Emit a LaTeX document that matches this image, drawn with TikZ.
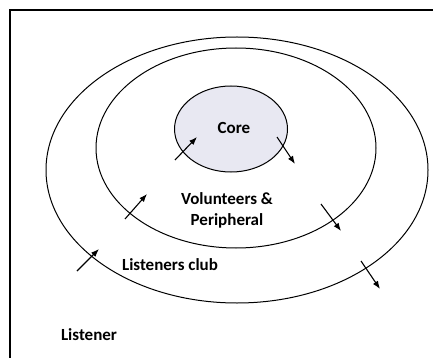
\documentclass[tikz,border=0pt]{standalone}
\usepackage{fontspec}
\setmainfont{Carlito}
\usepackage{tikz}
\usetikzlibrary{arrows.meta,shapes.geometric}
\definecolor{corefill}{RGB}{232,232,242}

\begin{document}
\begin{tikzpicture}[x=1pt,y=-1pt,
  ring/.style={draw,ellipse,line width=1pt,inner sep=0pt},
  lbl/.style={font=\bfseries\fontsize{17}{21}\selectfont,align=center},
  arr/.style={-{Latex[length=8pt,width=6pt]},line width=1.1pt}]
\useasboundingbox (0,0) rectangle (433,358);
% frame
\draw[line width=2pt] (10,358) -- (10,10) -- (433,10);
% rings
\node[ring,minimum width=382pt,minimum height=266pt] (outer) at (237,170) {};
\node[ring,minimum width=280pt,minimum height=200pt] (middle) at (236,148) {};
\node[ring,fill=corefill,minimum width=113pt,minimum height=86pt] (core) at (231,129) {};
% labels
\node[lbl] (corelbl) at (234,128) {Core};
\node[lbl] (vol) at (227,210) {Volunteers \&\\Peripheral};
\node[lbl] (club) at (170,265) {Listeners club};
\node[lbl] (listener) at (89,335) {Listener};
% arrows across the borders
\coordinate (a1) at (175,160); \coordinate (b1) at (197,137);
\coordinate (a2) at (277,137); \coordinate (b2) at (295,164);
\coordinate (a3) at (125,219); \coordinate (b3) at (147,194);
\coordinate (a4) at (321,204); \coordinate (b4) at (341,231);
\coordinate (a5) at (77,271); \coordinate (b5) at (99,249);
\coordinate (a6) at (361,261); \coordinate (b6) at (380,289);
\foreach \i in {1,...,6} \draw[arr] (a\i) -- (b\i);
\end{tikzpicture}
\end{document}
